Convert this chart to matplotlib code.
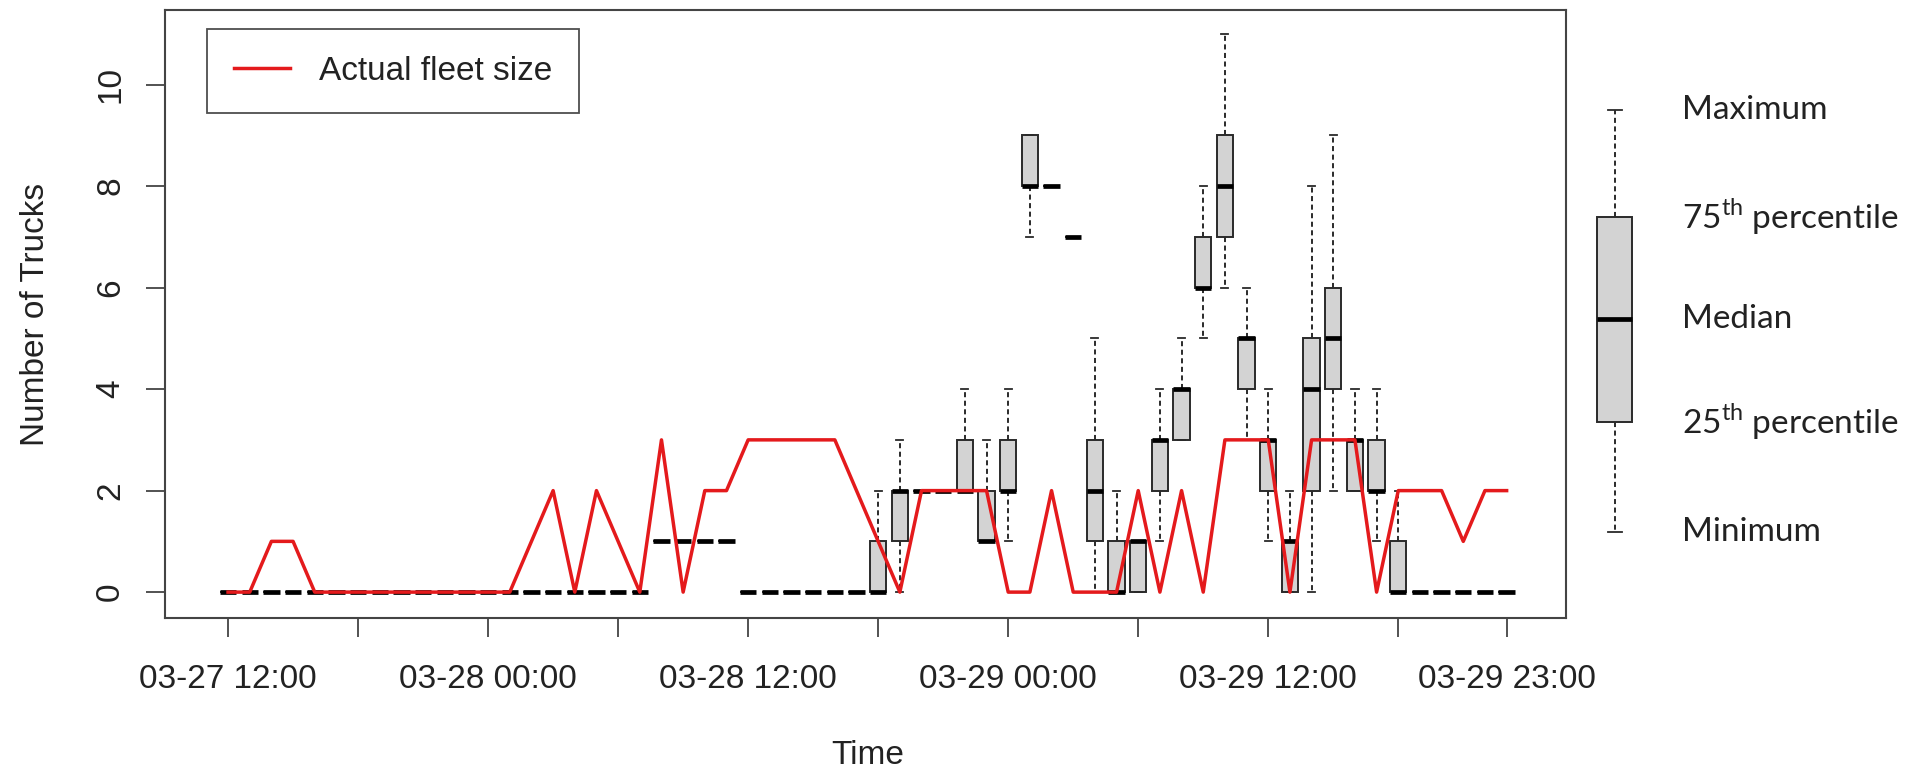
import numpy as np
import matplotlib.pyplot as plt

plt.rcParams['font.family'] = ['Liberation Sans', 'DejaVu Sans']
plt.rcParams['mathtext.fontset'] = 'custom'
plt.rcParams['mathtext.rm'] = 'Lato'

# hourly bins, hour 0 = 03-27 12:00
hours = np.arange(60)

box_min = [0, 0, 0, 0, 0, 0, 0, 0, 0, 0, 0, 0, 0, 0, 0, 0, 0, 0, 0, 0,
           1, 1, 1, 1, 0, 0, 0, 0, 0, 0,
           0, 0, 2, 2, 2, 1, 1, 7, 8, 7,
           0, 0, 0, 1, 3, 5, 6, 3, 1, 0,
           0, 2, 2, 1, 0, 0, 0, 0, 0, 0]
box_q1 = [0, 0, 0, 0, 0, 0, 0, 0, 0, 0, 0, 0, 0, 0, 0, 0, 0, 0, 0, 0,
          1, 1, 1, 1, 0, 0, 0, 0, 0, 0,
          0, 1, 2, 2, 2, 1, 2, 8, 8, 7,
          1, 0, 0, 2, 3, 6, 7, 4, 2, 0,
          2, 4, 2, 2, 0, 0, 0, 0, 0, 0]
box_med = [0, 0, 0, 0, 0, 0, 0, 0, 0, 0, 0, 0, 0, 0, 0, 0, 0, 0, 0, 0,
           1, 1, 1, 1, 0, 0, 0, 0, 0, 0,
           0, 2, 2, 2, 2, 1, 2, 8, 8, 7,
           2, 0, 1, 3, 4, 6, 8, 5, 3, 1,
           4, 5, 3, 2, 0, 0, 0, 0, 0, 0]
box_q3 = [0, 0, 0, 0, 0, 0, 0, 0, 0, 0, 0, 0, 0, 0, 0, 0, 0, 0, 0, 0,
          1, 1, 1, 1, 0, 0, 0, 0, 0, 0,
          1, 2, 2, 2, 3, 2, 3, 9, 8, 7,
          3, 1, 1, 3, 4, 7, 9, 5, 3, 1,
          5, 6, 3, 3, 1, 0, 0, 0, 0, 0]
box_max = [0, 0, 0, 0, 0, 0, 0, 0, 0, 0, 0, 0, 0, 0, 0, 0, 0, 0, 0, 0,
           1, 1, 1, 1, 0, 0, 0, 0, 0, 0,
           2, 3, 2, 2, 4, 3, 4, 9, 8, 7,
           5, 2, 1, 4, 5, 8, 11, 6, 4, 2,
           8, 9, 4, 4, 2, 0, 0, 0, 0, 0]

fleet = [0, 0, 1, 1, 0, 0, 0, 0, 0, 0, 0, 0, 0, 0, 1, 2, 0, 2, 1, 0,
         3, 0, 2, 2, 3, 3, 3, 3, 3, 2,
         1, 0, 2, 2, 2, 2, 0, 0, 2, 0,
         0, 0, 2, 0, 2, 0, 3, 3, 3, 0,
         3, 3, 3, 0, 2, 2, 2, 1, 2, 2]

tick_hours = [0, 6, 12, 18, 24, 30, 36, 42, 48, 54, 59]
tick_labels = ["03-27 12:00", "", "03-28 00:00", "", "03-28 12:00", "",
               "03-29 00:00", "", "03-29 12:00", "", "03-29 23:00"]

key_stats = [1.19, 3.36, 5.38, 7.40, 9.49]
key_labels = ["Minimum", "25$^{\\mathrm{th}}$ percentile", "Median",
              "75$^{\\mathrm{th}}$ percentile", "Maximum"]

red = '#E41A1C'
edge = '#2A2A2A'
fs = 24

fig = plt.figure(figsize=(19.23, 7.72), dpi=100)
ax = fig.add_axes([165/1923, 154/772, 1401/1923, 608/772])

box_style = dict(
    patch_artist=True, showfliers=False, widths=0.75, capwidths=0.33,
    boxprops=dict(facecolor='#D3D3D3', edgecolor=edge, linewidth=1.4),
    medianprops=dict(color='black', linewidth=3.4, solid_capstyle='butt'),
    whiskerprops=dict(color=edge, linewidth=1.4, linestyle=(0, (2.6, 1.8))),
    capprops=dict(color=edge, linewidth=1.3),
)

stats = []
for i in range(len(hours)):
    stats.append(dict(whislo=box_min[i], q1=box_q1[i], med=box_med[i],
                      q3=box_q3[i], whishi=box_max[i]))
ax.bxp(stats, positions=hours, manage_ticks=False, **box_style)

ax.plot(hours, fleet, color=red, linewidth=2.5, label='Actual fleet size', zorder=5)

ax.set_xlim(-2.91, 61.74)
ax.set_ylim(-0.51, 11.47)
ax.set_xticks(tick_hours)
ax.set_xticklabels(tick_labels)
ax.set_yticks([0, 2, 4, 6, 8, 10])
ax.set_yticklabels(['0', '2', '4', '6', '8', '10'], rotation=90, va='center')
ax.tick_params(axis='both', length=14, width=1.3, color='#444444',
               labelsize=fs, labelcolor='#222222')
ax.tick_params(axis='x', pad=19)
ax.tick_params(axis='y', pad=14)
for s in ax.spines.values():
    s.set_color('#444444')
    s.set_linewidth(1.5)

ax.set_ylabel('Number of Trucks', fontsize=fs, color='#222222', labelpad=32)
fig.text(868/1923, 1 - 755/772, 'Time', fontsize=fs, color='#222222',
         ha='center', va='center')

leg = ax.legend(loc='upper left', bbox_to_anchor=(0.030, 0.969), borderaxespad=0,
                fontsize=fs, frameon=True, fancybox=False, borderpad=0.8,
                handlelength=1.7, handletextpad=0.85)
leg.get_frame().set_edgecolor('#222222')
leg.get_frame().set_linewidth(1.3)
for t in leg.get_texts():
    t.set_color('#222222')

# explanatory key on the right
kax = fig.add_axes([1570/1923, 154/772, 353/1923, 608/772])
kax.set_xlim(0, 1)
kax.set_ylim(-0.51, 11.47)
kax.axis('off')
kax.bxp([dict(whislo=key_stats[0], q1=key_stats[1], med=key_stats[2],
              q3=key_stats[3], whishi=key_stats[4])],
        positions=[0.127], manage_ticks=False,
        **dict(box_style, widths=0.099, capwidths=0.04))
for val, lab in zip(key_stats, key_labels):
    kax.text(0.318, val, lab, fontsize=fs, family='Lato', color='#222222',
             ha='left', va='center')

fig.savefig('out.png', dpi=100)
